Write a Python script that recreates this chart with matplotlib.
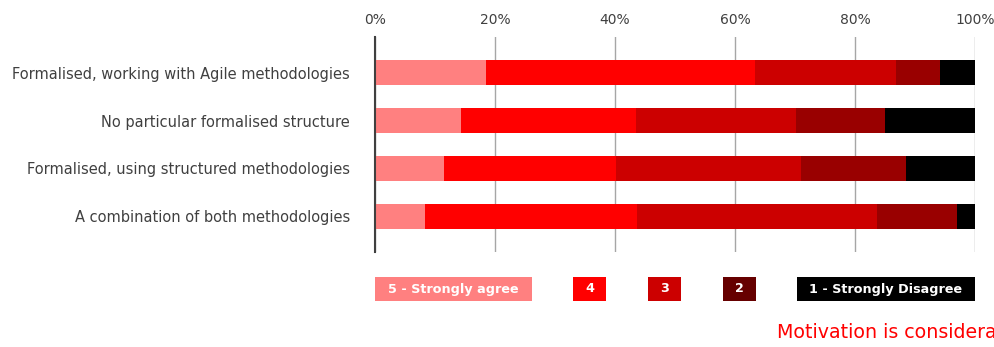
import matplotlib
matplotlib.use("Agg")
import matplotlib.pyplot as plt
from matplotlib.patches import Rectangle
import numpy as np

categories = [
    "Formalised, working with Agile methodologies",
    "No particular formalised structure",
    "Formalised, using structured methodologies",
    "A combination of both methodologies",
]
series_names = ["5 - Strongly agree", "4", "3", "2", "1 - Strongly Disagree"]
s5 = [18.5, 14.3, 11.5, 8.4]
s4 = [44.8, 29.2, 28.6, 35.3]
s3 = [23.5, 26.7, 30.9, 40.0]
s2 = [7.3, 14.8, 17.5, 13.3]
s1 = [5.9, 15.0, 11.5, 3.0]
series = [s5, s4, s3, s2, s1]
bar_colors = ["#FF8080", "#FF0000", "#CC0000", "#990000", "#000000"]
legend_colors = ["#FF8080", "#FF0000", "#CC0000", "#660000", "#000000"]
xticks = [0, 20, 40, 60, 80, 100]
xticklabels = ["0%", "20%", "40%", "60%", "80%", "100%"]

W, H = 995, 347
fig = plt.figure(figsize=(W / 100, H / 100), dpi=100)
ax = fig.add_axes([375 / W, 1 - 252 / H, 600 / W, 215 / H])

font = "DejaVu Sans"
y = np.arange(len(categories))
left = np.zeros(len(categories))
for vals, c in zip(series, bar_colors):
    ax.barh(y, vals, left=left, height=0.52, color=c, zorder=3)
    left += np.array(vals)

ax.set_xlim(0, 100)
ax.set_ylim(3.74, -0.74)
ax.set_yticks(y)
ax.set_yticklabels(categories, fontsize=10.55, color="#404040", family=font)
ax.set_xticks(xticks)
ax.set_xticklabels(xticklabels, fontsize=10, color="#404040", family=font)
ax.xaxis.tick_top()
ax.tick_params(axis="both", length=0)
ax.tick_params(axis="y", pad=18)
ax.tick_params(axis="x", pad=7)
ax.grid(axis="x", color="#A6A6A6", linewidth=1, zorder=0)
for s in ["top", "right", "bottom"]:
    ax.spines[s].set_visible(False)
ax.spines["left"].set_color("#404040")
ax.spines["left"].set_linewidth(1.5)
ax.spines["left"].set_zorder(4)

# legend boxes (pixel coordinates of the reference layout)
boxes = [(375, 532), (573, 606), (648, 681), (723, 756), (797, 975)]
for (x0, x1), name, c in zip(boxes, series_names, legend_colors):
    fig.patches.append(Rectangle((x0 / W, 1 - 301 / H), (x1 - x0) / W, 24 / H,
                                 transform=fig.transFigure, facecolor=c,
                                 edgecolor="none"))
    fig.text((x0 + x1) / 2 / W, 1 - 289 / H, name, ha="center", va="center",
             color="white", fontsize=9.2, fontweight="bold", family=font)

fig.text(777 / W, 1 - 333 / H, "Motivation is considera", color="#FF0000",
         fontsize=13.7, ha="left", va="center", family=font)

fig.savefig("out.png", dpi=100)
